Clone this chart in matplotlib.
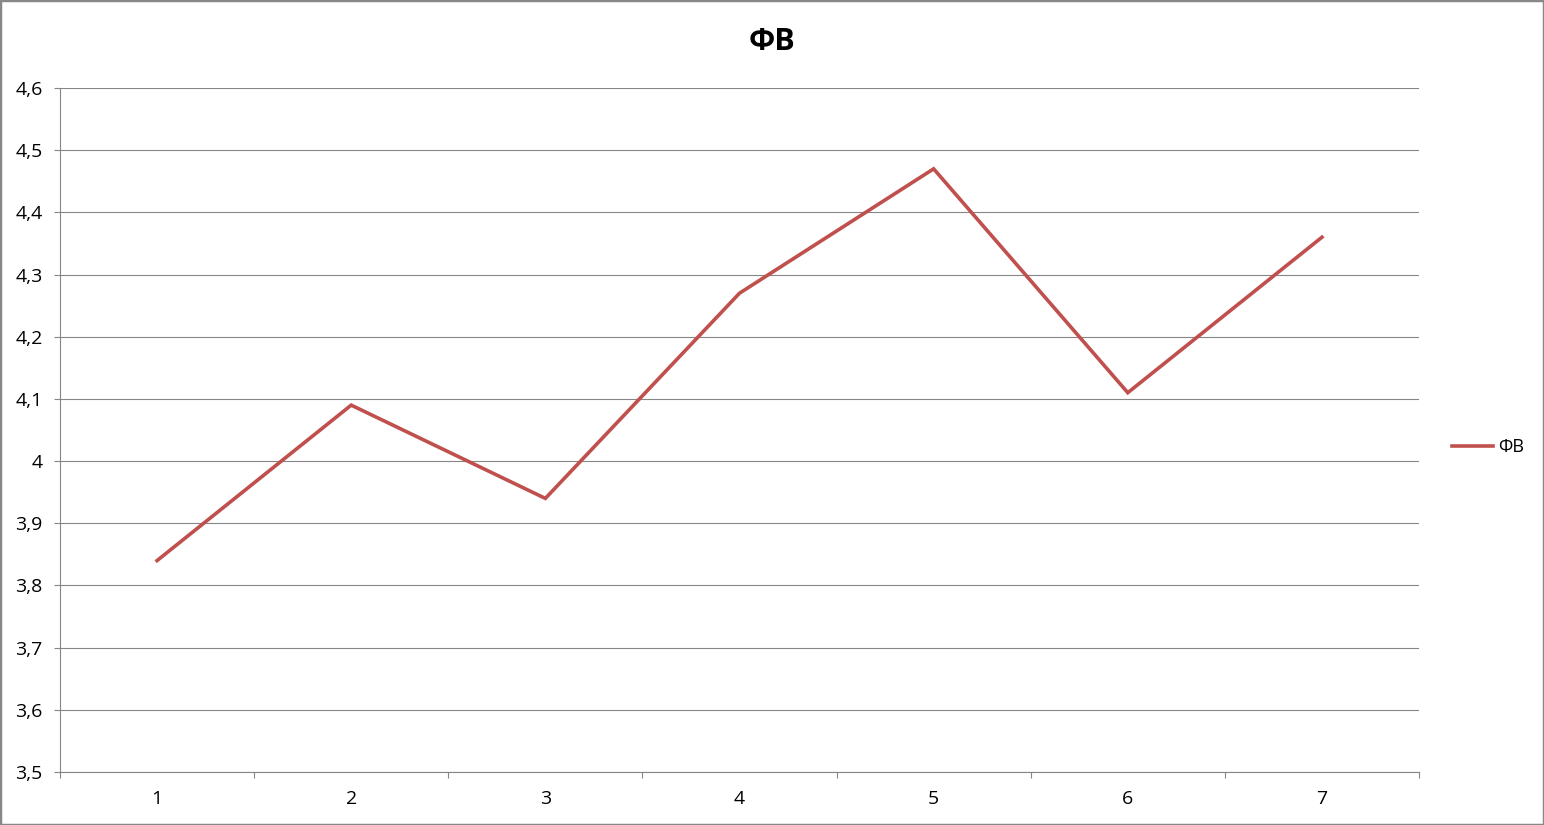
import matplotlib.pyplot as plt
import numpy as np
from matplotlib.ticker import FixedLocator, FuncFormatter

plt.rcParams['font.family'] = ['Open Sans', 'DejaVu Sans']

categories = [1, 2, 3, 4, 5, 6, 7]
values = [3.84, 4.09, 3.94, 4.27, 4.47, 4.11, 4.36]
series_name = "ФВ"
y_ticks = [3.5, 3.6, 3.7, 3.8, 3.9, 4.0, 4.1, 4.2, 4.3, 4.4, 4.5, 4.6]

grid_col = "#868686"
line_col = "#C0504D"

fig = plt.figure(figsize=(15.44, 8.25), dpi=100)
fig.patches.append(plt.Rectangle((0, 0), 1, 1, transform=fig.transFigure,
                                 fill=False, edgecolor="#888888", linewidth=2.5))
ax = fig.add_axes([60 / 1544, 53 / 825, 1359 / 1544, 684 / 825])

x = np.arange(len(categories)) + 1
ax.plot(x, values, color=line_col, linewidth=2.6, label=series_name,
        solid_joinstyle="miter")

ax.set_xlim(0.5, len(categories) + 0.5)
ax.set_ylim(3.5, 4.6)

ax.set_yticks(y_ticks)
ax.yaxis.set_major_formatter(FuncFormatter(
    lambda v, p: ("%g" % round(v, 1)).replace(".", ",")))
ax.grid(axis="y", color=grid_col, linewidth=0.8)
ax.set_axisbelow(True)

ax.set_xticks(x)
ax.set_xticklabels([str(c) for c in categories])
ax.xaxis.set_minor_locator(FixedLocator(np.arange(len(categories) + 1) + 0.5))
ax.tick_params(axis="x", which="major", length=0, pad=13, labelsize=14)
ax.tick_params(axis="x", which="minor", length=4.5, color=grid_col, width=0.8,
               direction="out")
ax.tick_params(axis="y", length=4.5, color=grid_col, width=0.8, pad=8,
               labelsize=14)

for s in ["top", "right"]:
    ax.spines[s].set_visible(False)
for s in ["left", "bottom"]:
    ax.spines[s].set_color(grid_col)
    ax.spines[s].set_linewidth(0.8)

fig.text(0.5, 1 - 42 / 825, series_name, ha="center", va="center",
         fontsize=22, fontweight="bold")

leg = ax.legend(loc="center left", bbox_to_anchor=(1.012, 0.475), frameon=False,
                fontsize=13, handlelength=2.3, handletextpad=0.3)

fig.savefig("out.png", dpi=100)
